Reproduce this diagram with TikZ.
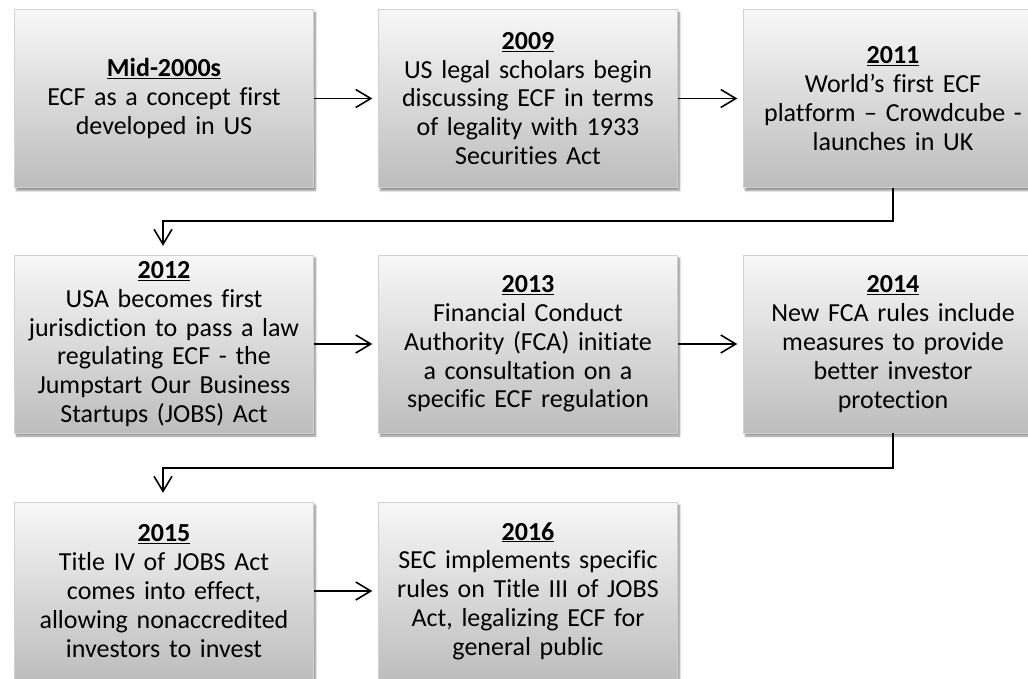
\documentclass[tikz,border=0pt]{standalone}
\usepackage{fontspec}
\setmainfont{Carlito}[Ligatures=NoCommon]
\usetikzlibrary{shadows.blur,arrows.meta}
\tikzset{
  evbox/.style={rectangle, minimum width=299pt, minimum height=178pt, text width=294pt,
    align=center, inner sep=0pt, top color=white!97!black, bottom color=black!26,
    draw=black!18, line width=0.4pt,
    blur shadow={shadow xshift=2pt, shadow yshift=-3pt, shadow blur steps=6, shadow opacity=45},
    font=\fontsize{26}{28.8}\selectfont},
  conn/.style={line width=1.6pt, -{Straight Barb[length=15pt,width=18pt,line width=1.6pt]}},
}
\newcommand{\yr}[1]{\underline{\textbf{#1}}\\}
\begin{document}
\begin{tikzpicture}[x=1pt,y=-1pt]
\useasboundingbox (0,0) rectangle (1028,678);
% row 1
\node[evbox] (a) at (164,98.5) {\yr{Mid-2000s}ECF as a concept first\\developed in US};
\node[evbox] (b) at (528,98.5) {\yr{2009}US legal scholars begin\\discussing ECF in terms\\of legality with 1933\\Securities Act};
\node[evbox] (c) at (893,98.5) {\yr{2011}World’s first ECF\\platform – Crowdcube -\\launches in UK};
% row 2
\node[evbox] (d) at (164,344) {\yr{2012}USA becomes first\\jurisdiction to pass a law\\regulating ECF - the\\Jumpstart Our Business\\Startups (JOBS) Act};
\node[evbox] (e) at (528,344) {\yr{2013}Financial Conduct\\Authority (FCA) initiate\\a consultation on a\\specific ECF regulation};
\node[evbox] (f) at (893,344) {\yr{2014}New FCA rules include\\measures to provide\\better investor\\protection};
% row 3
\node[evbox] (g) at (164,591) {\yr{2015}Title IV of JOBS Act\\comes into effect,\\allowing nonaccredited\\investors to invest};
\node[evbox] (h) at (528,591) {\yr{2016}SEC implements specific\\rules on Title III of JOBS\\Act, legalizing ECF for\\general public};
% connectors
\draw[conn, shorten >=6pt] (a.east) -- (b.west);
\draw[conn, shorten >=6pt] (b.east) -- (c.west);
\draw[conn, shorten >=6pt] (d.east) -- (e.west);
\draw[conn, shorten >=6pt] (e.east) -- (f.west);
\draw[conn, shorten >=6pt] (g.east) -- (h.west);
\coordinate (c1) at (893,221);
\coordinate (c2) at (163,221);
\draw[conn, shorten >=9pt] (c.south -| c1) -- (c1) -- (c2) -- (c2 |- d.north);
\coordinate (f1) at (893,468);
\coordinate (f2) at (163,468);
\draw[conn, shorten >=9pt] (f.south -| f1) -- (f1) -- (f2) -- (f2 |- g.north);
\end{tikzpicture}
\end{document}
